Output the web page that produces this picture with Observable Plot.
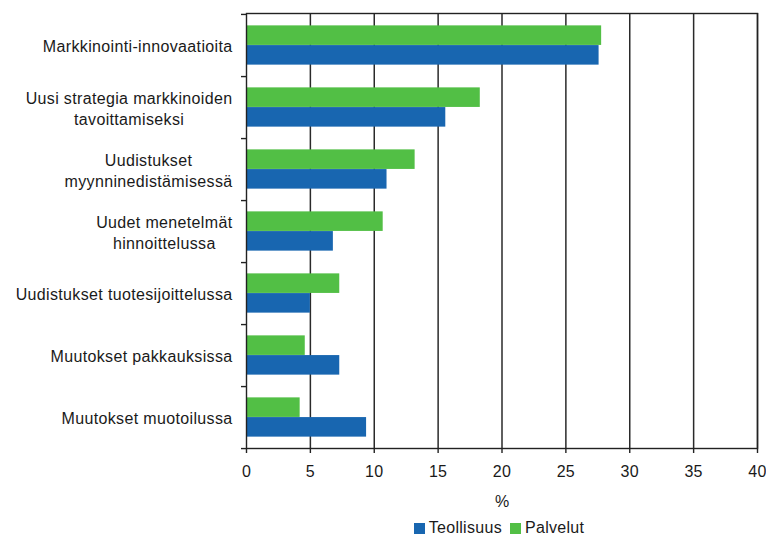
<!DOCTYPE html>
<html><head><meta charset="utf-8">
<script src="https://cdn.jsdelivr.net/npm/d3@7"></script>
<script src="https://cdn.jsdelivr.net/npm/@observablehq/plot@0.6"></script>
<style>
body{margin:0;background:#fff;font-family:"Liberation Sans",Arial,sans-serif;}
#chart{position:relative;width:766px;height:536px;overflow:hidden;}
#legend{position:absolute;left:0;top:518px;width:766px;height:20px;display:flex;justify-content:center;align-items:center;font-size:16px;color:#1a1a1a;padding-left:232px;box-sizing:border-box;letter-spacing:0.3px;}
#legend span.sw{display:inline-block;width:11px;height:11px;margin-right:4px;}
#legend span.it{display:inline-flex;align-items:center;margin:0 4px;}
</style></head><body><div id="chart"></div>
<script>
const categories = ["Markkinointi-innovaatioita","Uusi strategia markkinoiden\ntavoittamiseksi","Uudistukset\nmyynninedistämisessä","Uudet menetelmät\nhinnoittelussa","Uudistukset tuotesijoittelussa","Muutokset pakkauksissa","Muutokset muotoilussa"];
const teollisuus = [27.6, 15.6, 11.0, 6.8, 5.0, 7.3, 9.4];
const palvelut = [27.8, 18.3, 13.2, 10.7, 7.3, 4.6, 4.2];
const seriesNames = ["Teollisuus", "Palvelut"];
const seriesColors = ["#1866b0", "#52bf45"];
const xTicks = [0, 5, 10, 15, 20, 25, 30, 35, 40];
const xLabel = "%";

const W = 766, H = 512, mt = 13, mb = 64, ml = 246, mr = 9;
const bw = (H - mt - mb) / categories.length;
const barH = 19.7;
const data = categories.map((c, i) => ({cat: c, t: teollisuus[i], p: palvelut[i]}));
const ink = "#222";

const plot = Plot.plot({
  width: W, height: H, marginTop: mt, marginBottom: mb, marginLeft: ml, marginRight: mr,
  style: {fontFamily: "'Liberation Sans', Arial, sans-serif", fontSize: "16px", color: "#1a1a1a", background: "#fff"},
  x: {domain: [0, 40], ticks: xTicks},
  y: {domain: categories, padding: 0},
  marks: [
    Plot.gridX(xTicks.slice(1), {stroke: "#2a2a2a", strokeOpacity: 1, strokeWidth: 1.5}),
    Plot.barX(data, {y: "cat", x: "p", fill: seriesColors[1], insetTop: bw / 2 - barH, insetBottom: bw / 2}),
    Plot.barX(data, {y: "cat", x: "t", fill: seriesColors[0], insetTop: bw / 2, insetBottom: bw / 2 - barH}),
    Plot.frame({stroke: ink, strokeWidth: 1.4}),
    Plot.axisX(xTicks, {tickSize: 5, tickPadding: 12, label: null, stroke: ink, strokeWidth: 1.4, fill: "#1a1a1a"}),
    Plot.axisY({tickSize: 0, tickPadding: 14, label: null, lineHeight: 1.35, fill: "#1a1a1a"}),
    Plot.axisY({tickSize: 5, text: null, dy: bw / 2, label: null, stroke: ink, strokeWidth: 1.4}),
    Plot.axisY([categories[0]], {tickSize: 5, text: null, dy: -bw / 2, label: null, stroke: ink, strokeWidth: 1.4}),
    Plot.text([xLabel], {frameAnchor: "bottom", dy: 53, lineAnchor: "middle", fill: "#1a1a1a"})
  ]
});
const chart = document.getElementById("chart");
chart.appendChild(plot);

// widen y labels slightly and center multi-line ones
plot.querySelectorAll('g[aria-label="y-axis tick label"]').forEach(g => g.style.letterSpacing = "0.35px");
plot.querySelectorAll('g[aria-label="x-axis tick label"]').forEach(g => g.style.letterSpacing = "0.3px");
plot.querySelectorAll('g[aria-label="y-axis tick label"] text').forEach(t => {
  const spans = t.querySelectorAll("tspan");
  if (spans.length > 1) {
    let maxW = 0;
    spans.forEach(s => { maxW = Math.max(maxW, s.getComputedTextLength()); });
    t.setAttribute("text-anchor", "middle");
    spans.forEach(s => s.setAttribute("x", -maxW / 2));
  }
});

const legend = document.createElement("div");
legend.id = "legend";
seriesNames.forEach((n, i) => {
  const it = document.createElement("span");
  it.className = "it";
  const sw = document.createElement("span");
  sw.className = "sw";
  sw.style.background = seriesColors[i];
  it.appendChild(sw);
  it.appendChild(document.createTextNode(n));
  legend.appendChild(it);
});
chart.appendChild(legend);
</script></body></html>
